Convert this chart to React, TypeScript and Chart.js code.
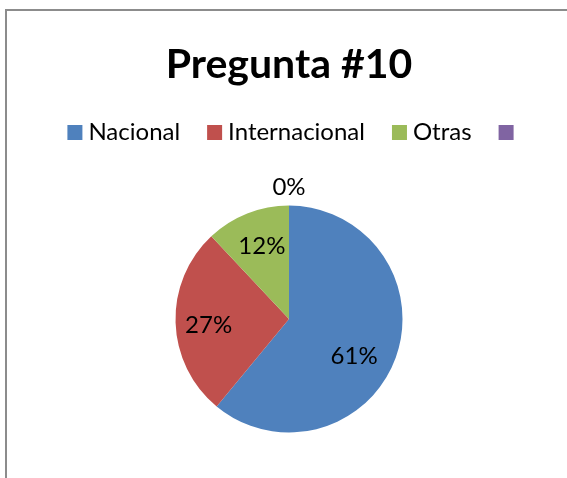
import { useEffect, useRef } from "react";
import { Chart, registerables } from "chart.js";

Chart.register(...registerables);

const categories = ["Nacional", "Internacional", "Otras", ""];
const values = [61, 27, 12, 0];
const colors = ["#4F81BD", "#C0504D", "#9BBB59", "#8064A2"];
const titleText = "Pregunta #10";

const FONT = "Lato, 'Open Sans', sans-serif";

// label placement: distance as fraction of radius, angular nudge in degrees (clockwise)
const labelPlacement = [
  { dist: 0.66, shift: 9.8 },
  { dist: 0.71, shift: -2.5 },
  { dist: 0.68, shift: 1 },
  { dist: 1.16, shift: 0 },
];

const sliceLabels = {
  id: "sliceLabels",
  afterDatasetsDraw(chart: any, _args: any, opts: any) {
    const meta = chart.getDatasetMeta(0);
    const data = chart.data.datasets[0].data as number[];
    const total = data.reduce((a, b) => a + b, 0);
    const ctx = chart.ctx as CanvasRenderingContext2D;
    ctx.save();
    ctx.font = `24px ${FONT}`;
    ctx.fillStyle = "#000";
    ctx.textAlign = "center";
    ctx.textBaseline = "middle";
    meta.data.forEach((arc: any, i: number) => {
      const { x, y, startAngle, endAngle, outerRadius } = arc.getProps(
        ["x", "y", "startAngle", "endAngle", "outerRadius"],
        true
      );
      const p = opts.placement[i] || { dist: 0.68, shift: 0 };
      const a = (startAngle + endAngle) / 2 + (p.shift * Math.PI) / 180;
      const d = outerRadius * p.dist;
      const txt = Math.round((data[i] / total) * 100) + "%";
      ctx.fillText(txt, x + Math.cos(a) * d, y + Math.sin(a) * d);
    });
    ctx.restore();
  },
};

// Excel-style legend row: square, small gap, text, wide gap
const excelLegend = {
  id: "excelLegend",
  afterDraw(chart: any, _args: any, opts: any) {
    const ctx = chart.ctx as CanvasRenderingContext2D;
    const labels = chart.data.labels as string[];
    const bg = chart.data.datasets[0].backgroundColor as string[];
    const box = opts.box, gapIn = opts.gapIn, gapOut = opts.gapOut;
    ctx.save();
    ctx.font = `${opts.size}px ${FONT}`;
    const widths = labels.map((t) => box + (t ? gapIn + ctx.measureText(t).width : 0));
    const total = widths.reduce((a, b) => a + b, 0) + gapOut * (labels.length - 1);
    const area = chart.chartArea;
    let x = (area.left + area.right) / 2 + opts.dx - total / 2;
    const y = area.top - opts.above;
    ctx.textAlign = "left";
    ctx.textBaseline = "middle";
    labels.forEach((t, i) => {
      ctx.fillStyle = bg[i];
      ctx.fillRect(x, y - box / 2, box, box);
      if (t) {
        ctx.fillStyle = "#000";
        ctx.fillText(t, x + box + gapIn, y);
      }
      x += widths[i] + gapOut;
    });
    ctx.restore();
  },
};

const frame = {
  id: "frame",
  beforeDraw(chart: any) {
    const ctx = chart.ctx as CanvasRenderingContext2D;
    ctx.save();
    ctx.fillStyle = "#fff";
    ctx.fillRect(0, 0, chart.width, chart.height);
    ctx.strokeStyle = "#8c8c8c";
    ctx.lineWidth = 2;
    ctx.beginPath();
    ctx.moveTo(6, chart.height);
    ctx.lineTo(6, 10);
    ctx.lineTo(chart.width, 10);
    ctx.stroke();
    ctx.restore();
  },
};

export default function App() {
  const ref = useRef<HTMLCanvasElement>(null);
  useEffect(() => {
    if (!ref.current) return;
    const chart = new Chart(ref.current, {
      type: "pie",
      data: {
        labels: categories,
        datasets: [
          {
            data: values,
            backgroundColor: colors,
            borderWidth: 0,
            radius: 113.5,
          },
        ],
      },
      options: {
        responsive: false,
        animation: false,
        layout: { padding: { top: 0, left: 11, right: 0, bottom: 0 } },
        plugins: {
          title: {
            display: true,
            text: titleText,
            color: "#000",
            font: { family: FONT, size: 41, weight: "bold" },
            padding: { top: 40, bottom: 70.8 },
          },
          legend: { display: false },
          tooltip: { enabled: false },
          sliceLabels: { placement: labelPlacement },
          excelLegend: { box: 15, gapIn: 6, gapOut: 27, size: 24, dx: 1.5, above: 27.5 },
        } as any,
      },
      plugins: [frame, sliceLabels, excelLegend],
    });
    return () => chart.destroy();
  }, []);
  return (
    <div style={{ position: "fixed", left: 0, top: 0, width: 567, height: 478 }}>
      <canvas ref={ref} width={567} height={478} style={{ display: "block" }} />
    </div>
  );
}
